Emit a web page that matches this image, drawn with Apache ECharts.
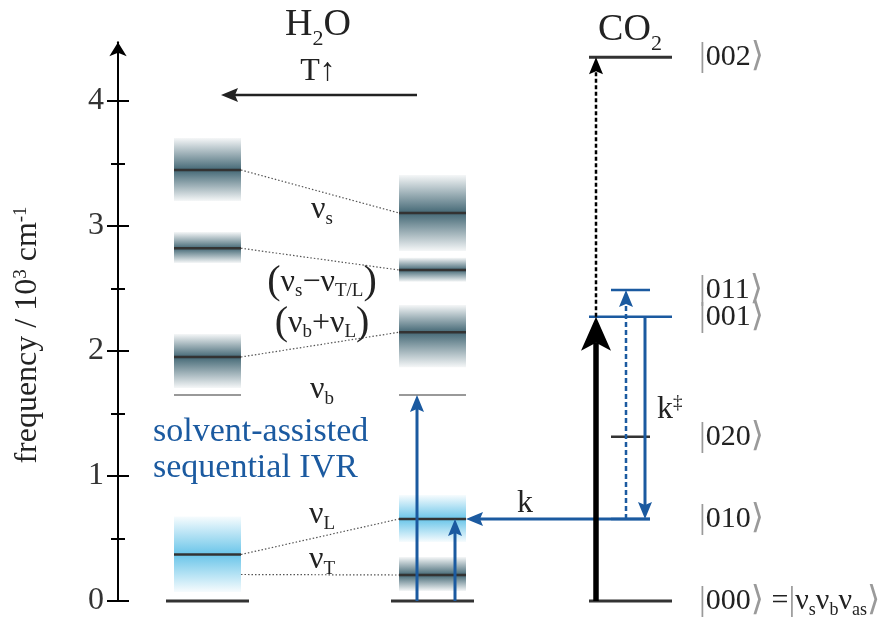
<!DOCTYPE html>
<html>
<head>
<meta charset="utf-8">
<title>Vibrational levels of H2O and CO2</title>
<script src="https://cdn.jsdelivr.net/npm/echarts@6/dist/echarts.min.js"></script>
<style>
  html, body { margin: 0; padding: 0; background: #ffffff; }
  #chart { width: 892px; height: 619px; }
</style>
</head>
<body>
<div id="chart"></div>
<script>
// ---------- values, in 10^3 cm^-1 ----------
const yMajorTicks = [0, 1, 2, 3, 4];
const yMinorTicks = [0.5, 1.5, 2.5, 3.5];
const yTop = 4.47;

// water modes: s, (s - T/L), (b + L), L, T
const coldLevel = [3.448, 2.822, 1.952, 0.372, 0.212];
const coldLow   = [3.200, 2.704, 1.704, 0.072, null];
const coldHigh  = [3.704, 2.952, 2.136, 0.676, null];
const hotLevel  = [3.104, 2.648, 2.150, 0.656, 0.208];
const hotLow    = [2.800, 2.554, 1.870, 0.472, 0.080];
const hotHigh   = [3.408, 2.746, 2.368, 0.848, 0.352];
const modeTone  = ['dark', 'dark', 'dark', 'light', 'dark'];
const bendLevel = 1.648;

// CO2 states |v_s v_b v_as>
const ketNames = ['000', '010', '020', '001', '011', '002'];
const ketLevel = [0, 0.656, 1.315, 2.275, 2.488, 4.350];

// ---------- look ----------
const FONT = "'Liberation Serif', 'DejaVu Serif', serif";
const INK = '#222222';
const BLUE = '#1b5aa0';
const GREY = '#9a9a9a';

// horizontal layout in page pixels (the hidden x axis spans the page)
const COLD = [174, 241], HOT = [399, 466];
const COLD_BASE = [166, 249], HOT_BASE = [391, 474];
const CO2_WIDE = [589, 672], CO2_SHORT = [611, 650];
const X_MODE_LABEL = 322, X_KET = 699;
const X_PUMP_B = 417, X_PUMP_L = 455;
const X_CO2_PUMP = 596, X_CO2_UP = 626, X_CO2_DOWN = 645;

function richSet(size, color) {
  return {
    n: { fontFamily: FONT, fontSize: size, fill: color },
    s: { fontFamily: FONT, fontSize: Math.round(size * 0.6), fill: color, padding: [18, 0, 0, 0] },
    u: { fontFamily: FONT, fontSize: Math.round(size * 0.6), fill: color, padding: [0, 0, 14, 0] },
    p: { fontFamily: FONT, fontSize: Math.round(size * 1.25), fill: color },
    g: { fontFamily: FONT, fontSize: size + 4, fill: GREY }
  };
}

// ---------- water bands ----------
const bandData = [];
coldLevel.forEach((lv, i) => {
  const tone = modeTone[i] === 'light' ? 1 : 0;
  if (coldLow[i] !== null) bandData.push([COLD[0], COLD[1], lv, coldLow[i], coldHigh[i], tone]);
  bandData.push([HOT[0], HOT[1], hotLevel[i], hotLow[i], hotHigh[i], tone]);
});

function renderBand(params, api) {
  const x0 = api.coord([api.value(0), 0])[0];
  const x1 = api.coord([api.value(1), 0])[0];
  const yl = api.coord([0, api.value(2)])[1];
  const yb = api.coord([0, api.value(3)])[1];
  const yt = api.coord([0, api.value(4)])[1];
  const rgb = api.value(5) ? '98,194,232' : '58,96,110';
  const f = (yl - yt) / (yb - yt);
  const c = a => 'rgba(' + rgb + ',' + a + ')';
  return {
    type: 'group',
    children: [
      {
        type: 'rect',
        shape: { x: x0, y: yt, width: x1 - x0, height: yb - yt },
        style: {
          fill: {
            type: 'linear', x: 0, y: 0, x2: 0, y2: 1,
            colorStops: [
              { offset: 0, color: c(0.05) },
              { offset: f * 0.5, color: c(0.5) },
              { offset: f, color: c(0.95) },
              { offset: f + (1 - f) * 0.5, color: c(0.5) },
              { offset: 1, color: c(0.05) }
            ]
          }
        }
      },
      { type: 'line', shape: { x1: x0, y1: yl, x2: x1, y2: yl }, style: { stroke: '#333', lineWidth: 2.5 } }
    ]
  };
}

// dotted links between the cold and hot positions of each mode
const linkData = coldLevel.map((lv, i) => [COLD[1], lv, HOT[0], hotLevel[i]]);
function renderLink(params, api) {
  const a = api.coord([api.value(0), api.value(1)]);
  const b = api.coord([api.value(2), api.value(3)]);
  return { type: 'line', shape: { x1: a[0], y1: a[1], x2: b[0], y2: b[1] },
           style: { stroke: '#555', lineWidth: 1.2, lineDash: [1.5, 2] } };
}

// ---------- plain level lines ----------
const LINE_STYLES = [
  { stroke: '#333', lineWidth: 3 },      // ground / black level
  { stroke: '#777', lineWidth: 1.5 },    // water bend
  { stroke: BLUE, lineWidth: 2.5 },      // CO2 blue level
  { stroke: '#333', lineWidth: 2.5 }     // CO2 short black level
];
const levelData = [
  [COLD_BASE[0], COLD_BASE[1], 0, 0],
  [HOT_BASE[0], HOT_BASE[1], 0, 0],
  [COLD[0], COLD[1], bendLevel, 1],
  [HOT[0], HOT[1], bendLevel, 1],
  [CO2_WIDE[0], CO2_WIDE[1], ketLevel[0], 0],
  [CO2_SHORT[0], CO2_SHORT[1], ketLevel[1], 2],
  [CO2_SHORT[0], CO2_SHORT[1], ketLevel[2], 3],
  [CO2_WIDE[0], CO2_WIDE[1], ketLevel[3], 2],
  [CO2_SHORT[0], CO2_SHORT[1], ketLevel[4], 2],
  [CO2_WIDE[0], CO2_WIDE[1], ketLevel[5], 0]
];
function renderLevel(params, api) {
  const a = api.coord([api.value(0), api.value(2)]);
  const b = api.coord([api.value(1), api.value(2)]);
  return { type: 'line', shape: { x1: a[0], y1: a[1], x2: b[0], y2: b[1] }, style: LINE_STYLES[api.value(3)] };
}

// ---------- transitions ----------
const ARROW_STYLES = [
  { color: BLUE, width: 3, len: 17, half: 7, notch: 3, dash: null },        // blue solid
  { color: BLUE, width: 2.5, len: 17, half: 7, notch: 3, dash: [5, 3] },    // blue dashed
  { color: '#000', width: 5.5, len: 34, half: 15, notch: 8, dash: null },   // thick black
  { color: '#000', width: 2.5, len: 17, half: 7, notch: 3, dash: [4, 2.5] } // black dashed
];
// [x from, value from, x to, value to, style]
const arrowData = [
  [X_PUMP_B, 0, X_PUMP_B, bendLevel, 0],
  [X_PUMP_L, 0, X_PUMP_L, hotLevel[3], 0],
  [CO2_SHORT[1], ketLevel[1], HOT[1], hotLevel[3], 0],
  [X_CO2_PUMP, ketLevel[0], X_CO2_PUMP, ketLevel[3], 2],
  [X_CO2_PUMP, ketLevel[3], X_CO2_PUMP, ketLevel[5], 3],
  [X_CO2_UP, ketLevel[1], X_CO2_UP, ketLevel[4], 1],
  [X_CO2_DOWN, ketLevel[3], X_CO2_DOWN, ketLevel[1], 0]
];
function renderArrow(params, api) {
  const p0 = api.coord([api.value(0), api.value(1)]);
  const p1 = api.coord([api.value(2), api.value(3)]);
  const st = ARROW_STYLES[api.value(4)];
  const dx = p1[0] - p0[0], dy = p1[1] - p0[1];
  const L = Math.hypot(dx, dy);
  const ux = dx / L, uy = dy / L, px = -uy, py = ux;
  const bx = p1[0] - ux * st.len, by = p1[1] - uy * st.len;
  const nx = p1[0] - ux * (st.len - st.notch), ny = p1[1] - uy * (st.len - st.notch);
  return {
    type: 'group',
    children: [
      { type: 'line', shape: { x1: p0[0], y1: p0[1], x2: nx, y2: ny },
        style: { stroke: st.color, lineWidth: st.width, lineDash: st.dash } },
      { type: 'polygon',
        shape: { points: [[p1[0], p1[1]], [bx + px * st.half, by + py * st.half], [nx, ny], [bx - px * st.half, by - py * st.half]] },
        style: { fill: st.color } }
    ]
  };
}

// ---------- labels ----------
const modeLabelText = [
  '{n|ν}{s|s}',
  '{p|(}{n|ν}{s|s}{n|−ν}{s|T/L}{p|)}',
  '{p|(}{n|ν}{s|b}{n|+ν}{s|L}{p|)}',
  '{n|ν}{s|b}',
  '{n|ν}{s|L}',
  '{n|ν}{s|T}'
];
const modeLabelAt = [3.13, 2.55, 2.22, 1.69, 0.69, 0.33];

const ketText = ketNames.map((k, i) => '{g||}{n|' + k + '}{g|⟩}' +
  (i === 0 ? '{n| =}{g||}{n|ν}{s|s}{n|ν}{s|b}{n|ν}{s|as}{g|⟩}' : ''));

// [x, value, text index, align]  text index into allLabels
const allLabels = modeLabelText.concat(ketText, ['{n|k}', '{n|k}{u|‡}']);
const labelData = [];
modeLabelAt.forEach((v, i) => labelData.push([X_MODE_LABEL, v, i, 1]));
ketLevel.forEach((v, i) => labelData.push([X_KET, v, modeLabelText.length + i, 0]));
labelData.push([525, ketLevel[1] + 0.12, modeLabelText.length + ketNames.length, 1]);
labelData.push([657, 1.53, modeLabelText.length + ketNames.length + 1, 0]);

const richMain = richSet(32, INK);
const richKet = richSet(30, INK);
function renderLabel(params, api) {
  const p = api.coord([api.value(0), api.value(1)]);
  const idx = api.value(2);
  const isKet = idx >= modeLabelText.length && idx < modeLabelText.length + ketNames.length;
  return {
    type: 'text', x: p[0], y: p[1],
    style: {
      text: allLabels[idx],
      align: api.value(3) === 1 ? 'center' : 'left',
      verticalAlign: 'middle',
      rich: isKet ? richKet : richMain
    }
  };
}

// ---------- chart ----------
const chart = echarts.init(document.getElementById('chart'), null, { renderer: 'canvas' });
const yBase = { type: 'value', position: 'left', min: 0, max: yTop, splitLine: { show: false } };
const titleRich = {
  t: { fontFamily: FONT, fontSize: 38, fill: INK },
  ts: { fontFamily: FONT, fontSize: 22, fill: INK, padding: [28, 0, 0, 0] }
};

chart.setOption({
  animation: false,
  backgroundColor: '#ffffff',
  grid: { left: 118, right: 0, top: 601 - yTop * 125, bottom: 18, containLabel: false },
  xAxis: { type: 'value', min: 118, max: 892, show: false },
  yAxis: [
    Object.assign({}, yBase, {
      axisLine: { show: true, symbol: ['none', 'arrow'], symbolSize: [13, 14], lineStyle: { color: '#000', width: 2 } },
      axisTick: { show: false },
      axisLabel: { customValues: yMajorTicks, fontFamily: FONT, fontSize: 32, color: '#333', margin: 14 }
    }),
    Object.assign({}, yBase, {
      offset: -11,
      axisLine: { show: false },
      axisLabel: { show: false },
      axisTick: { show: true, customValues: yMajorTicks, length: 22, lineStyle: { color: '#000', width: 2 } }
    }),
    Object.assign({}, yBase, {
      offset: -7,
      axisLine: { show: false },
      axisLabel: { show: false },
      axisTick: { show: true, customValues: yMinorTicks, length: 14, lineStyle: { color: '#000', width: 2 } }
    })
  ],
  graphic: [
    { type: 'text', x: 28, y: 335, rotation: Math.PI / 2,
      style: { text: '{n|frequency / 10}{u|3}{n| cm}{u|-1}', align: 'center', verticalAlign: 'middle', rich: richSet(32, INK) } },
    { type: 'text', x: 318, y: 25,
      style: { text: '{t|H}{ts|2}{t|O}', align: 'center', verticalAlign: 'middle', rich: titleRich } },
    { type: 'text', x: 318, y: 72,
      style: { text: 'T↑', font: '32px ' + FONT, fill: INK, align: 'center', verticalAlign: 'middle' } },
    { type: 'line', shape: { x1: 417, y1: 95, x2: 234, y2: 95 }, style: { stroke: INK, lineWidth: 2.5 } },
    { type: 'polygon', shape: { points: [[221, 95], [238, 88], [235, 95], [238, 102]] }, style: { fill: INK } },
    { type: 'text', x: 630, y: 30,
      style: { text: '{t|CO}{ts|2}', align: 'center', verticalAlign: 'middle', rich: titleRich } },
    { type: 'text', x: 153, y: 450,
      style: { text: 'solvent-assisted\nsequential IVR', font: '34px ' + FONT, fill: BLUE, lineHeight: 36,
               align: 'left', verticalAlign: 'middle' } }
  ],
  series: [
    { type: 'custom', coordinateSystem: 'cartesian2d', renderItem: renderBand, data: bandData, z: 1, silent: true },
    { type: 'custom', coordinateSystem: 'cartesian2d', renderItem: renderLink, data: linkData, z: 2, silent: true },
    { type: 'custom', coordinateSystem: 'cartesian2d', renderItem: renderLevel, data: levelData, z: 3, silent: true },
    { type: 'custom', coordinateSystem: 'cartesian2d', renderItem: renderArrow, data: arrowData, z: 4, silent: true },
    { type: 'custom', coordinateSystem: 'cartesian2d', renderItem: renderLabel, data: labelData, z: 5, silent: true }
  ]
});
</script>
</body>
</html>
